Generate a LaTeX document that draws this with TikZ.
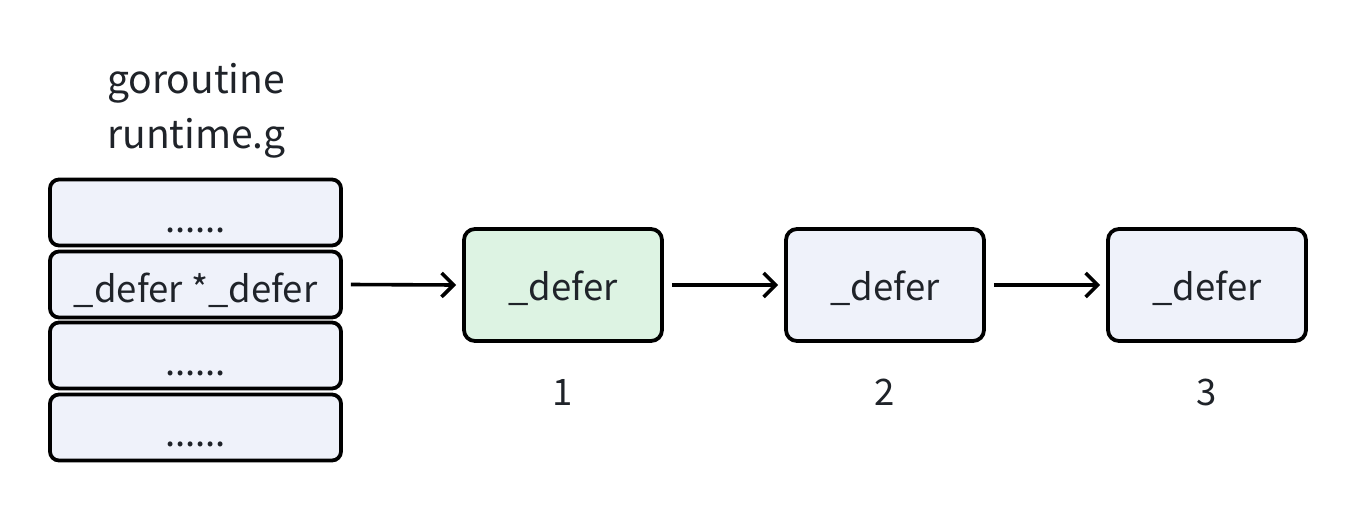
\documentclass[tikz,border=0pt]{standalone}
\usepackage{fontspec}
\setmainfont{Noto Sans CJK SC}
\usetikzlibrary{arrows.meta}
\definecolor{txt}{HTML}{1F2329}
\definecolor{bluefill}{HTML}{EFF2FA}
\definecolor{greenfill}{HTML}{DDF3E3}
\tikzset{
  cell/.style={draw=black, line width=3.8pt, rounded corners=9pt, fill=bluefill,
    minimum width=291pt, minimum height=66pt, inner sep=0pt},
  dnode/.style={draw=black, line width=3.8pt, rounded corners=11pt, fill=bluefill,
    minimum width=198pt, minimum height=112pt, inner sep=0pt},
  lbl/.style={text=txt, inner sep=0pt, anchor=base, font=\fontsize{36.5pt}{42pt}\selectfont},
  ttl/.style={text=txt, inner sep=0pt, anchor=base west, font=\fontsize{39pt}{46pt}\selectfont},
  arr/.style={line width=3.6pt, -{Straight Barb[length=12pt,width=24pt,line width=3.6pt]}}
}
\begin{document}
\begin{tikzpicture}[x=1pt,y=-1pt]
\useasboundingbox (0,0) rectangle (1358,512);
\node[ttl] (title1) at (107,93) {goroutine};
\node[ttl] (title2) at (107,148) {runtime.g};
\node[cell] (c1) at (195.5,212.5) {};
\node[cell] (c2) at (195.5,284.5) {};
\node[cell] (c3) at (195.5,355.5) {};
\node[cell] (c4) at (195.5,427.5) {};
\node[lbl] (t1) at (195.5,232) {......};
\node[lbl] (t2) at (195.5,302) {\_defer *\_defer};
\node[lbl] (t3) at (195.5,375) {......};
\node[lbl] (t4) at (195.5,446) {......};
\node[dnode, fill=greenfill] (d1) at (563,285) {};
\node[dnode] (d2) at (885,285) {};
\node[dnode] (d3) at (1207,285) {};
\node[lbl] (e1) at (563,300) {\_defer};
\node[lbl] (e2) at (885,300) {\_defer};
\node[lbl] (e3) at (1207,300) {\_defer};
\node[lbl] (n1) at (563,405) {1};
\node[lbl] (n2) at (885,405) {2};
\node[lbl] (n3) at (1207,405) {3};
\draw[arr] ([xshift=8pt]c2.east) -- ([xshift=-6pt]d1.west);
\draw[arr] ([xshift=8pt]d1.east) -- ([xshift=-6pt]d2.west);
\draw[arr] ([xshift=8pt]d2.east) -- ([xshift=-6pt]d3.west);
\end{tikzpicture}
\end{document}
